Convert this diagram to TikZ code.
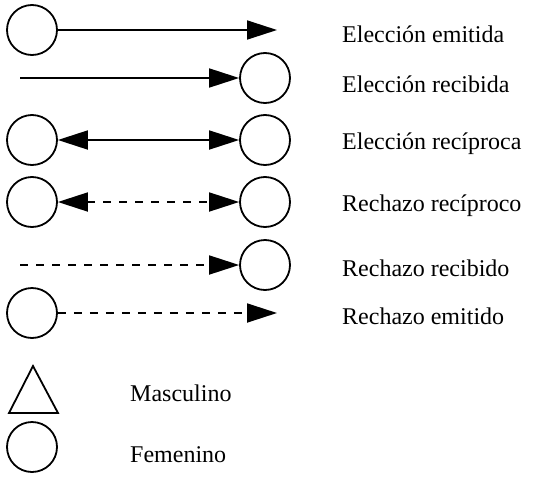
\documentclass[tikz,border=0pt]{standalone}
\usepackage{fontspec}
\setmainfont{Liberation Serif}
\usetikzlibrary{arrows.meta}
\begin{document}
\begin{tikzpicture}[x=1pt,y=-1pt,
  person/.style={circle,draw,line width=1.8pt,minimum size=50pt,inner sep=0pt},
  conn/.style={line width=1.8pt},
  tipend/.style={-{Triangle[length=30pt,width=19pt]}},
  tipboth/.style={{Triangle[length=30pt,width=19pt]}-{Triangle[length=30pt,width=19pt]}},
  dashline/.style={dash pattern=on 8pt off 8pt},
  lbl/.style={anchor=west,font=\fontsize{24}{28}\selectfont,inner sep=0pt}]
\useasboundingbox (0,0) rectangle (538,479);
% row 1
\node[person] (a1) at (32,30) {};
\coordinate (b1) at (277,30);
\draw[conn,tipend] (a1) -- (b1);
\node[lbl] (l1) at (342,34) {Elección emitida};
% row 2
\coordinate (a2) at (20,78);
\node[person] (b2) at (265,78) {};
\draw[conn,tipend] (a2) -- (b2);
\node[lbl] (l2) at (342,84) {Elección recibida};
% row 3
\node[person] (a3) at (32,140) {};
\node[person] (b3) at (265,140) {};
\draw[conn,tipboth] (a3) -- (b3);
\node[lbl] (l3) at (342,144) {Elección recíproca};
% row 4
\node[person] (a4) at (32,202) {};
\node[person] (b4) at (265,202) {};
\draw[conn,tipboth,dashline] (a4) -- (b4);
\node[lbl] (l4) at (342,206) {Rechazo recíproco};
% row 5
\coordinate (a5) at (20,265);
\node[person] (b5) at (265,265) {};
\draw[conn,tipend,dashline] (a5) -- (b5);
\node[lbl] (l5) at (342,268) {Rechazo recibido};
% row 6
\node[person] (a6) at (32,313) {};
\coordinate (b6) at (277,313);
\draw[conn,tipend,dashline] (a6) -- (b6);
\node[lbl] (l6) at (342,316) {Rechazo emitido};
% legend
\draw[line width=1.8pt,line join=miter] (33,366) -- (58,413) -- (9,413) -- cycle;
\node[lbl] (m) at (130,393) {Masculino};
\node[person] (f) at (32,447) {};
\node[lbl] (fl) at (130,455) {Femenino};
\end{tikzpicture}
\end{document}
